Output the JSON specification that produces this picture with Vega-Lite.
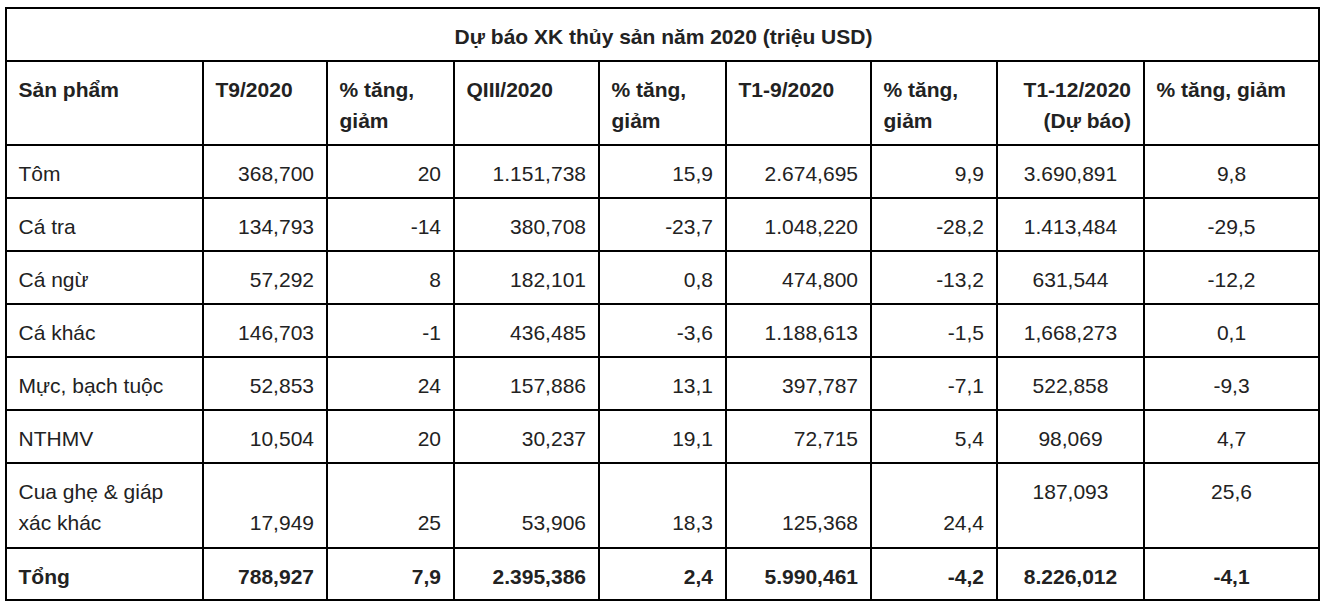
{
  "$schema": "https://vega.github.io/schema/vega-lite/v6.json",
  "width": 1327,
  "height": 609,
  "padding": 0,
  "autosize": {"type": "none"},
  "background": "#ffffff",
  "config": {"view": {"stroke": null}},
  "data": {
    "values": [
      {"r0": 0, "r1": 1, "c0": 0, "c1": 9, "t": "Dự báo XK thủy sản năm 2020 (triệu USD)"},
      {"r0": 1, "r1": 2, "c0": 0, "c1": 1, "t": "Sản phẩm"},
      {"r0": 1, "r1": 2, "c0": 1, "c1": 2, "t": "T9/2020"},
      {"r0": 1, "r1": 2, "c0": 2, "c1": 3, "t": "% tăng,\ngiảm"},
      {"r0": 1, "r1": 2, "c0": 3, "c1": 4, "t": "QIII/2020"},
      {"r0": 1, "r1": 2, "c0": 4, "c1": 5, "t": "% tăng,\ngiảm"},
      {"r0": 1, "r1": 2, "c0": 5, "c1": 6, "t": "T1-9/2020"},
      {"r0": 1, "r1": 2, "c0": 6, "c1": 7, "t": "% tăng,\ngiảm"},
      {"r0": 1, "r1": 2, "c0": 7, "c1": 8, "t": "T1-12/2020\n(Dự báo)"},
      {"r0": 1, "r1": 2, "c0": 8, "c1": 9, "t": "% tăng, giảm"},

      {"r0": 2, "r1": 3, "c0": 0, "c1": 1, "t": "Tôm"},
      {"r0": 2, "r1": 3, "c0": 1, "c1": 2, "t": "368,700"},
      {"r0": 2, "r1": 3, "c0": 2, "c1": 3, "t": "20"},
      {"r0": 2, "r1": 3, "c0": 3, "c1": 4, "t": "1.151,738"},
      {"r0": 2, "r1": 3, "c0": 4, "c1": 5, "t": "15,9"},
      {"r0": 2, "r1": 3, "c0": 5, "c1": 6, "t": "2.674,695"},
      {"r0": 2, "r1": 3, "c0": 6, "c1": 7, "t": "9,9"},
      {"r0": 2, "r1": 3, "c0": 7, "c1": 8, "t": "3.690,891"},
      {"r0": 2, "r1": 3, "c0": 8, "c1": 9, "t": "9,8"},

      {"r0": 3, "r1": 4, "c0": 0, "c1": 1, "t": "Cá tra"},
      {"r0": 3, "r1": 4, "c0": 1, "c1": 2, "t": "134,793"},
      {"r0": 3, "r1": 4, "c0": 2, "c1": 3, "t": "-14"},
      {"r0": 3, "r1": 4, "c0": 3, "c1": 4, "t": "380,708"},
      {"r0": 3, "r1": 4, "c0": 4, "c1": 5, "t": "-23,7"},
      {"r0": 3, "r1": 4, "c0": 5, "c1": 6, "t": "1.048,220"},
      {"r0": 3, "r1": 4, "c0": 6, "c1": 7, "t": "-28,2"},
      {"r0": 3, "r1": 4, "c0": 7, "c1": 8, "t": "1.413,484"},
      {"r0": 3, "r1": 4, "c0": 8, "c1": 9, "t": "-29,5"},

      {"r0": 4, "r1": 5, "c0": 0, "c1": 1, "t": "Cá ngừ"},
      {"r0": 4, "r1": 5, "c0": 1, "c1": 2, "t": "57,292"},
      {"r0": 4, "r1": 5, "c0": 2, "c1": 3, "t": "8"},
      {"r0": 4, "r1": 5, "c0": 3, "c1": 4, "t": "182,101"},
      {"r0": 4, "r1": 5, "c0": 4, "c1": 5, "t": "0,8"},
      {"r0": 4, "r1": 5, "c0": 5, "c1": 6, "t": "474,800"},
      {"r0": 4, "r1": 5, "c0": 6, "c1": 7, "t": "-13,2"},
      {"r0": 4, "r1": 5, "c0": 7, "c1": 8, "t": "631,544"},
      {"r0": 4, "r1": 5, "c0": 8, "c1": 9, "t": "-12,2"},

      {"r0": 5, "r1": 6, "c0": 0, "c1": 1, "t": "Cá khác"},
      {"r0": 5, "r1": 6, "c0": 1, "c1": 2, "t": "146,703"},
      {"r0": 5, "r1": 6, "c0": 2, "c1": 3, "t": "-1"},
      {"r0": 5, "r1": 6, "c0": 3, "c1": 4, "t": "436,485"},
      {"r0": 5, "r1": 6, "c0": 4, "c1": 5, "t": "-3,6"},
      {"r0": 5, "r1": 6, "c0": 5, "c1": 6, "t": "1.188,613"},
      {"r0": 5, "r1": 6, "c0": 6, "c1": 7, "t": "-1,5"},
      {"r0": 5, "r1": 6, "c0": 7, "c1": 8, "t": "1,668,273"},
      {"r0": 5, "r1": 6, "c0": 8, "c1": 9, "t": "0,1"},

      {"r0": 6, "r1": 7, "c0": 0, "c1": 1, "t": "Mực, bạch tuộc"},
      {"r0": 6, "r1": 7, "c0": 1, "c1": 2, "t": "52,853"},
      {"r0": 6, "r1": 7, "c0": 2, "c1": 3, "t": "24"},
      {"r0": 6, "r1": 7, "c0": 3, "c1": 4, "t": "157,886"},
      {"r0": 6, "r1": 7, "c0": 4, "c1": 5, "t": "13,1"},
      {"r0": 6, "r1": 7, "c0": 5, "c1": 6, "t": "397,787"},
      {"r0": 6, "r1": 7, "c0": 6, "c1": 7, "t": "-7,1"},
      {"r0": 6, "r1": 7, "c0": 7, "c1": 8, "t": "522,858"},
      {"r0": 6, "r1": 7, "c0": 8, "c1": 9, "t": "-9,3"},

      {"r0": 7, "r1": 8, "c0": 0, "c1": 1, "t": "NTHMV"},
      {"r0": 7, "r1": 8, "c0": 1, "c1": 2, "t": "10,504"},
      {"r0": 7, "r1": 8, "c0": 2, "c1": 3, "t": "20"},
      {"r0": 7, "r1": 8, "c0": 3, "c1": 4, "t": "30,237"},
      {"r0": 7, "r1": 8, "c0": 4, "c1": 5, "t": "19,1"},
      {"r0": 7, "r1": 8, "c0": 5, "c1": 6, "t": "72,715"},
      {"r0": 7, "r1": 8, "c0": 6, "c1": 7, "t": "5,4"},
      {"r0": 7, "r1": 8, "c0": 7, "c1": 8, "t": "98,069"},
      {"r0": 7, "r1": 8, "c0": 8, "c1": 9, "t": "4,7"},

      {"r0": 8, "r1": 9, "c0": 0, "c1": 1, "t": "Cua ghẹ & giáp\nxác khác"},
      {"r0": 8, "r1": 9, "c0": 1, "c1": 2, "t": "17,949"},
      {"r0": 8, "r1": 9, "c0": 2, "c1": 3, "t": "25"},
      {"r0": 8, "r1": 9, "c0": 3, "c1": 4, "t": "53,906"},
      {"r0": 8, "r1": 9, "c0": 4, "c1": 5, "t": "18,3"},
      {"r0": 8, "r1": 9, "c0": 5, "c1": 6, "t": "125,368"},
      {"r0": 8, "r1": 9, "c0": 6, "c1": 7, "t": "24,4"},
      {"r0": 8, "r1": 9, "c0": 7, "c1": 8, "t": "187,093"},
      {"r0": 8, "r1": 9, "c0": 8, "c1": 9, "t": "25,6"},

      {"r0": 9, "r1": 10, "c0": 0, "c1": 1, "t": "Tổng"},
      {"r0": 9, "r1": 10, "c0": 1, "c1": 2, "t": "788,927"},
      {"r0": 9, "r1": 10, "c0": 2, "c1": 3, "t": "7,9"},
      {"r0": 9, "r1": 10, "c0": 3, "c1": 4, "t": "2.395,386"},
      {"r0": 9, "r1": 10, "c0": 4, "c1": 5, "t": "2,4"},
      {"r0": 9, "r1": 10, "c0": 5, "c1": 6, "t": "5.990,461"},
      {"r0": 9, "r1": 10, "c0": 6, "c1": 7, "t": "-4,2"},
      {"r0": 9, "r1": 10, "c0": 7, "c1": 8, "t": "8.226,012"},
      {"r0": 9, "r1": 10, "c0": 8, "c1": 9, "t": "-4,1"}
    ]
  },
  "encoding": {
    "y": {
      "field": "r0",
      "type": "quantitative",
      "scale": {"domain": [0, 1, 2, 3, 4, 5, 6, 7, 8, 9, 10], "range": [8, 61, 145, 198, 251, 304, 357, 410, 463, 548, 600], "nice": false, "zero": false},
      "axis": null
    }
  },
  "resolve": {"scale": {"x": "independent"}},
  "layer": [
    {
      "mark": {"type": "rect", "fill": "#ffffff", "stroke": "#000000", "strokeWidth": 2},
      "encoding": {
        "x": {"field": "c0", "type": "quantitative", "scale": {"domain": [0, 1, 2, 3, 4, 5, 6, 7, 8, 9], "range": [6, 203, 327, 454, 599, 726, 871, 997, 1144, 1319], "nice": false, "zero": false}, "axis": null},
        "x2": {"field": "c1"},
        "y2": {"field": "r1"}
      }
    },
    {
      "transform": [{"filter": "datum.c0 == 0 && datum.r0 >= 2 && datum.r0 <= 8"}],
      "mark": {"type": "text", "align": "left", "baseline": "alphabetic", "dx": 12.5, "dy": 36, "font": "Liberation Sans", "fontSize": 21, "fill": "#222222", "lineBreak": "\n", "lineHeight": 31},
      "encoding": {
        "x": {"field": "c0", "type": "quantitative", "scale": {"domain": [0, 1, 2, 3, 4, 5, 6, 7, 8, 9], "range": [6, 203, 327, 454, 599, 726, 871, 997, 1144, 1319], "nice": false, "zero": false}, "axis": null},
        "text": {"field": "t", "type": "nominal"}
      }
    },
    {
      "transform": [{"filter": "(datum.r0 == 1 && datum.c0 != 7) || (datum.c0 == 0 && datum.r0 == 9)"}],
      "mark": {"type": "text", "align": "left", "baseline": "alphabetic", "dx": 12.5, "dy": 36, "font": "Liberation Sans", "fontSize": 21, "fontWeight": "bold", "fill": "#222222", "lineBreak": "\n", "lineHeight": 31},
      "encoding": {
        "x": {"field": "c0", "type": "quantitative", "scale": {"domain": [0, 1, 2, 3, 4, 5, 6, 7, 8, 9], "range": [6, 203, 327, 454, 599, 726, 871, 997, 1144, 1319], "nice": false, "zero": false}, "axis": null},
        "text": {"field": "t", "type": "nominal"}
      }
    },
    {
      "transform": [{"filter": "datum.c0 >= 1 && datum.c0 <= 6 && datum.r0 >= 2 && datum.r0 <= 7"}],
      "mark": {"type": "text", "align": "right", "baseline": "alphabetic", "dx": -13, "dy": 36, "font": "Liberation Sans", "fontSize": 21, "fill": "#222222"},
      "encoding": {
        "x": {"field": "c1", "type": "quantitative", "scale": {"domain": [0, 1, 2, 3, 4, 5, 6, 7, 8, 9], "range": [6, 203, 327, 454, 599, 726, 871, 997, 1144, 1319], "nice": false, "zero": false}, "axis": null},
        "text": {"field": "t", "type": "nominal"}
      }
    },
    {
      "transform": [{"filter": "datum.c0 >= 1 && datum.c0 <= 6 && datum.r0 == 8"}],
      "mark": {"type": "text", "align": "right", "baseline": "alphabetic", "dx": -13, "dy": 67, "font": "Liberation Sans", "fontSize": 21, "fill": "#222222"},
      "encoding": {
        "x": {"field": "c1", "type": "quantitative", "scale": {"domain": [0, 1, 2, 3, 4, 5, 6, 7, 8, 9], "range": [6, 203, 327, 454, 599, 726, 871, 997, 1144, 1319], "nice": false, "zero": false}, "axis": null},
        "text": {"field": "t", "type": "nominal"}
      }
    },
    {
      "transform": [{"filter": "(datum.c0 >= 1 && datum.c0 <= 6 && datum.r0 == 9) || (datum.r0 == 1 && datum.c0 == 7)"}],
      "mark": {"type": "text", "align": "right", "baseline": "alphabetic", "dx": -13, "dy": 36, "font": "Liberation Sans", "fontSize": 21, "fontWeight": "bold", "fill": "#222222", "lineBreak": "\n", "lineHeight": 31},
      "encoding": {
        "x": {"field": "c1", "type": "quantitative", "scale": {"domain": [0, 1, 2, 3, 4, 5, 6, 7, 8, 9], "range": [6, 203, 327, 454, 599, 726, 871, 997, 1144, 1319], "nice": false, "zero": false}, "axis": null},
        "text": {"field": "t", "type": "nominal"}
      }
    },
    {
      "transform": [{"filter": "datum.c0 >= 7 && datum.r0 >= 2 && datum.r0 <= 8"}],
      "mark": {"type": "text", "align": "center", "baseline": "alphabetic", "dy": 36, "font": "Liberation Sans", "fontSize": 21, "fill": "#222222"},
      "encoding": {
        "x": {"field": "c0", "type": "quantitative", "scale": {"domain": [0, 7, 8], "range": [663.5, 1070.5, 1231.5], "nice": false, "zero": false}, "axis": null},
        "text": {"field": "t", "type": "nominal"}
      }
    },
    {
      "transform": [{"filter": "datum.r0 == 0 || (datum.c0 >= 7 && datum.r0 == 9)"}],
      "mark": {"type": "text", "align": "center", "baseline": "alphabetic", "dy": 36, "font": "Liberation Sans", "fontSize": 21, "fontWeight": "bold", "fill": "#222222"},
      "encoding": {
        "x": {"field": "c0", "type": "quantitative", "scale": {"domain": [0, 7, 8], "range": [663.5, 1070.5, 1231.5], "nice": false, "zero": false}, "axis": null},
        "text": {"field": "t", "type": "nominal"}
      }
    }
  ]
}
